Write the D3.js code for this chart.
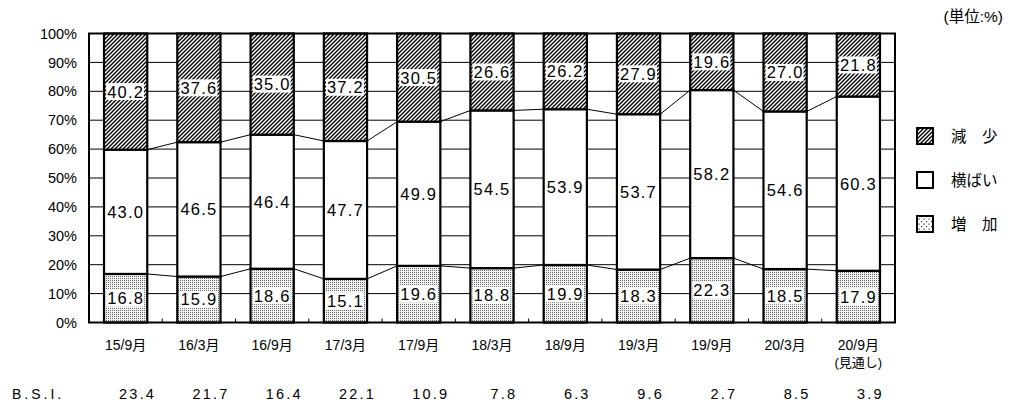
<!DOCTYPE html>
<html>
<head>
<meta charset="utf-8">
<script src="https://cdn.jsdelivr.net/npm/d3@7"></script>
<style>
  html, body { margin: 0; padding: 0; background: #fff; }
  svg { display: block; font-family: "Liberation Sans", Arial, "Noto Sans CJK JP", sans-serif; }
</style>
</head>
<body>
<svg id="chart" width="1014" height="410"></svg>
<script>
// 調査時点
const categories = ["15/9月", "16/3月", "16/9月", "17/3月", "17/9月", "18/3月", "18/9月", "19/3月", "19/9月", "20/3月", "20/9月"];
const categoryNotes = ["", "", "", "", "", "", "", "", "", "", "(見通し)"];

// 構成比 (%)
const increase = [16.8, 15.9, 18.6, 15.1, 19.6, 18.8, 19.9, 18.3, 22.3, 18.5, 17.9];
const flat     = [43.0, 46.5, 46.4, 47.7, 49.9, 54.5, 53.9, 53.7, 58.2, 54.6, 60.3];
const decrease = [40.2, 37.6, 35.0, 37.2, 30.5, 26.6, 26.2, 27.9, 19.6, 27.0, 21.8];

// B.S.I.
const bsi = [23.4, 21.7, 16.4, 22.1, 10.9, 7.8, 6.3, 9.6, 2.7, 8.5, 3.9];

const yTicks = [0, 10, 20, 30, 40, 50, 60, 70, 80, 90, 100];
const seriesKeys = ["increase", "flat", "decrease"];
const seriesNames = { increase: "増　加", flat: "横ばい", decrease: "減　少" };

const svg = d3.select("#chart");
const plot = { left: 89, right: 895, top: 33.5, bottom: 322.5 };

// patterns
const defs = svg.append("defs");
const hatch = defs.append("pattern")
  .attr("id", "hatch").attr("patternUnits", "userSpaceOnUse")
  .attr("width", 4).attr("height", 4);
hatch.append("rect").attr("width", 4).attr("height", 4).attr("fill", "#fff");
hatch.append("path").attr("d", "M-1,1 l2,-2 M0,4 l4,-4 M3,5 l2,-2")
  .attr("stroke", "#000").attr("stroke-width", 1.4);

const dots = defs.append("pattern")
  .attr("id", "dots").attr("patternUnits", "userSpaceOnUse")
  .attr("width", 2).attr("height", 2);
dots.append("rect").attr("width", 2).attr("height", 2).attr("fill", "#f2f2f2");
dots.append("rect").attr("width", 1).attr("height", 1).attr("fill", "#6a6a6a");

const dotsSparse = defs.append("pattern")
  .attr("id", "dotsSparse").attr("patternUnits", "userSpaceOnUse")
  .attr("width", 5).attr("height", 5);
dotsSparse.append("rect").attr("width", 5).attr("height", 5).attr("fill", "#fff");
dotsSparse.append("rect").attr("x", 1).attr("y", 1).attr("width", 1.2).attr("height", 1.2).attr("fill", "#333");
dotsSparse.append("rect").attr("x", 3.5).attr("y", 3.5).attr("width", 1.2).attr("height", 1.2).attr("fill", "#333");

const fills = { increase: "url(#dots)", flat: "#fff", decrease: "url(#hatch)" };

// data table
const rows = categories.map((c, i) => ({
  cat: c, increase: increase[i], flat: flat[i], decrease: decrease[i]
}));
const stacked = d3.stack().keys(seriesKeys).offset(d3.stackOffsetExpand)(rows);

const x = d3.scaleBand().domain(categories)
  .range([plot.left, plot.right]).paddingInner(0.41).paddingOuter(0.205);
const y = d3.scaleLinear().domain([0, 1]).range([plot.bottom, plot.top]);
const yPct = d3.scaleLinear().domain([0, 100]).range([plot.bottom, plot.top]);

// grid
svg.append("g").selectAll("line")
  .data(yTicks.filter(t => t > 0 && t < 100))
  .join("line")
  .attr("x1", plot.left).attr("x2", plot.right)
  .attr("y1", d => yPct(d)).attr("y2", d => yPct(d))
  .attr("stroke", "#000").attr("stroke-width", 1);

// y axis labels
const yAxis = d3.axisLeft(yPct).tickValues(yTicks).tickFormat(d => d + "%").tickSize(0).tickPadding(12);
const gy = svg.append("g").attr("transform", `translate(${plot.left},0)`).call(yAxis);
gy.select(".domain").remove();
gy.selectAll("text").attr("font-size", 14.5).attr("fill", "#000")
  .attr("font-family", "'Liberation Sans', Arial, sans-serif");

// connector lines between bars
const links = svg.append("g").attr("fill", "none").attr("stroke", "#000").attr("stroke-width", 1);
stacked.slice(0, 2).forEach(s => {
  for (let i = 0; i < s.length - 1; i++) {
    links.append("line")
      .attr("x1", x(categories[i]) + x.bandwidth()).attr("y1", y(s[i][1]))
      .attr("x2", x(categories[i + 1])).attr("y2", y(s[i + 1][1]));
  }
});

// bars
const barG = svg.append("g");
stacked.forEach(s => {
  barG.append("g").selectAll("rect")
    .data(s)
    .join("rect")
    .attr("x", d => x(d.data.cat))
    .attr("width", x.bandwidth())
    .attr("y", d => y(d[1]))
    .attr("height", d => y(d[0]) - y(d[1]))
    .attr("fill", fills[s.key])
    .attr("stroke", "#000").attr("stroke-width", 2.2);
});

// plot frame
svg.append("rect")
  .attr("x", plot.left).attr("y", plot.top)
  .attr("width", plot.right - plot.left).attr("height", plot.bottom - plot.top)
  .attr("fill", "none").attr("stroke", "#000").attr("stroke-width", 2);

// inner ticks on the category axis
svg.append("g").selectAll("line")
  .data(categories.slice(1))
  .join("line")
  .attr("x1", d => x(d) - x.step() * x.paddingInner() / 2)
  .attr("x2", d => x(d) - x.step() * x.paddingInner() / 2)
  .attr("y1", plot.bottom).attr("y2", plot.bottom - 4)
  .attr("stroke", "#000").attr("stroke-width", 1);

// value labels
const fmt = d3.format(".1f");
const labelG = svg.append("g");
stacked.forEach(s => {
  s.forEach(d => {
    const cx = x(d.data.cat) + x.bandwidth() / 2;
    const cy = (y(d[0]) + y(d[1])) / 2;
    const g = labelG.append("g");
    const t = g.append("text")
      .attr("x", cx).attr("y", cy).attr("dy", "0.36em")
      .attr("text-anchor", "middle")
      .attr("font-size", 16.5).attr("letter-spacing", 1.2)
      .attr("fill", "#000")
      .text(fmt(d.data[s.key]));
    const bb = t.node().getBBox();
    g.insert("rect", "text")
      .attr("x", bb.x - 1).attr("y", cy - 8.5)
      .attr("width", bb.width + 1).attr("height", 17)
      .attr("fill", "#fff");
  });
});

// category labels
const xl = svg.append("g").attr("font-size", 14).attr("text-anchor", "middle").attr("fill", "#000");
categories.forEach((c, i) => {
  const cx = x(c) + x.bandwidth() / 2;
  xl.append("text").attr("x", cx).attr("y", 350).text(c);
  if (categoryNotes[i]) {
    xl.append("text").attr("x", cx).attr("y", 367).attr("font-size", 13).text(categoryNotes[i]);
  }
});

// B.S.I. row
svg.append("text").attr("x", 12).attr("y", 399)
  .attr("font-size", 14).attr("letter-spacing", 3).attr("fill", "#000").text("B.S.I.");
svg.append("g").selectAll("text")
  .data(bsi)
  .join("text")
  .attr("x", (d, i) => x(categories[i]) + x.bandwidth() / 2 + 12)
  .attr("y", 399)
  .attr("text-anchor", "middle")
  .attr("font-size", 14.5).attr("letter-spacing", 2.2).attr("fill", "#000")
  .text(d => fmt(d));

// unit note
svg.append("text").attr("x", 1003).attr("y", 22).attr("text-anchor", "end")
  .attr("font-size", 15.5).attr("fill", "#000").text("(単位:%)");

// legend
const legendOrder = ["decrease", "flat", "increase"];
const legendFills = { decrease: "url(#hatch)", flat: "#fff", increase: "url(#dotsSparse)" };
const lg = svg.append("g");
legendOrder.forEach((k, i) => {
  const cy = 136 + i * 44;
  lg.append("rect").attr("x", 917).attr("y", cy - 8).attr("width", 16).attr("height", 16)
    .attr("fill", legendFills[k]).attr("stroke", "#000").attr("stroke-width", 2);
  lg.append("text").attr("x", 951).attr("y", cy).attr("dy", "0.36em")
    .attr("font-size", 15.5).attr("fill", "#000").text(seriesNames[k]);
});
</script>
</body>
</html>
